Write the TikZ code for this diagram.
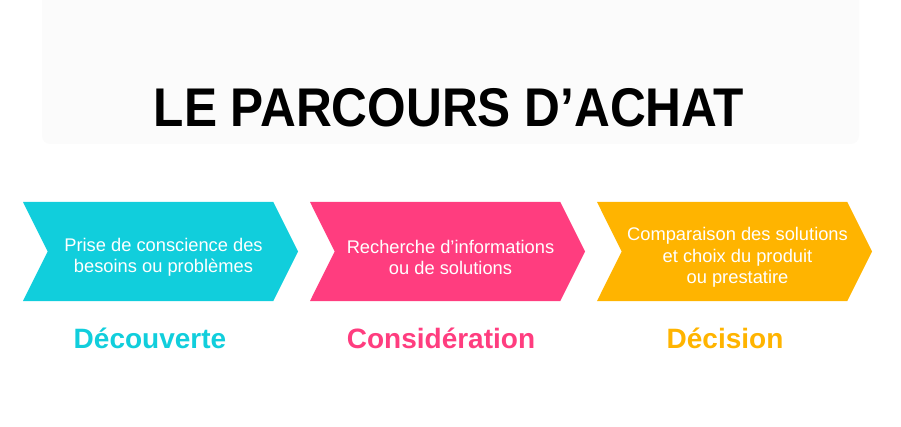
\documentclass[tikz,border=0pt]{standalone}
\usepackage{fontspec}
\setmainfont{Liberation Sans}
\usetikzlibrary{shapes.symbols,positioning}
\definecolor{decouv}{HTML}{11CEDC}
\definecolor{consid}{HTML}{FF3D7F}
\definecolor{decis}{HTML}{FFB400}
\definecolor{panel}{HTML}{FBFBFB}
\tikzset{
  chevron/.style={signal, signal from=west, signal to=east, signal pointer angle=127,
    minimum width=275pt, minimum height=99pt, inner sep=0pt},
  chevtext/.style={text=white, align=center, xshift=3pt, yshift=-6pt,
    font=\fontsize{18.3}{21.5}\selectfont},
  phase/.style={anchor=base, font=\bfseries\fontsize{28}{30}\selectfont},
}
\begin{document}
\begin{tikzpicture}[x=1pt, y=-1pt, node distance=287pt]
  \useasboundingbox (0,0) rectangle (901,427);
  \fill[panel, rounded corners=8pt] (42,-20) rectangle (859,144);
  \node[anchor=base] (titre) at (449,127)
    {\fontsize{54.5}{60}\selectfont\bfseries\scalebox{0.91}[1]{LE PARCOURS D’ACHAT}};
  % etapes
  \node[chevron, fill=decouv, label={[chevtext]center:Prise de conscience des\\besoins ou problèmes}]
    (A) at (160.5,251.5) {};
  \node[chevron, fill=consid, right of=A, label={[chevtext]center:Recherche d’informations\\ou de solutions}]
    (B) {};
  \node[chevron, fill=decis, right of=B, label={[chevtext]center:Comparaison des solutions\\et choix du produit\\ou prestatire}]
    (C) {};
  \node[phase, text=decouv] (A_nom) at (150,348) {Découverte};
  \node[phase, text=consid] (B_nom) at (441,348) {Considération};
  \node[phase, text=decis] (C_nom) at (725,348) {Décision};
\end{tikzpicture}
\end{document}
